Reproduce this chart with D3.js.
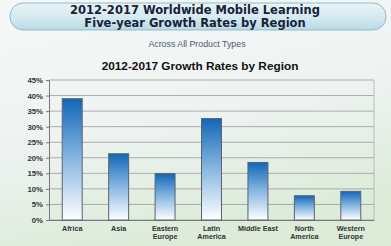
<!DOCTYPE html>
<html>
<head>
<meta charset="utf-8">
<script src="https://cdn.jsdelivr.net/npm/d3@7"></script>
<style>
  body { margin: 0; padding: 0; }
  svg { display: block; }
</style>
</head>
<body>
<div id="chart"></div>
<script>
const regions = ["Africa", "Asia", "Eastern Europe", "Latin America", "Middle East", "North America", "Western Europe"];
const regionLines = [["Africa"], ["Asia"], ["Eastern", "Europe"], ["Latin", "America"], ["Middle East"], ["North", "America"], ["Western", "Europe"]];
const growthRates = [0.39, 0.213, 0.149, 0.326, 0.185, 0.078, 0.092];
const yTicks = [0, 0.05, 0.10, 0.15, 0.20, 0.25, 0.30, 0.35, 0.40, 0.45];

const W = 391, H = 246;
const margin = {top: 80, right: 17, bottom: 26, left: 49},
  width = W - margin.left - margin.right,
  height = H - margin.top - margin.bottom;

const root = d3.select("#chart").append("svg")
  .attr("width", W).attr("height", H);

const defs = root.append("defs");

// slide background
const bg = defs.append("linearGradient").attr("id", "bg")
  .attr("x1", 0).attr("y1", 0).attr("x2", 0.3).attr("y2", 1);
bg.append("stop").attr("offset", "0%").attr("stop-color", "#f6f8f8");
bg.append("stop").attr("offset", "55%").attr("stop-color", "#eef3f2");
bg.append("stop").attr("offset", "100%").attr("stop-color", "#dcecd9");

// banner
const ban = defs.append("linearGradient").attr("id", "banner")
  .attr("x1", 0).attr("y1", 0).attr("x2", 0).attr("y2", 1);
ban.append("stop").attr("offset", "0%").attr("stop-color", "#e8f4f8");
ban.append("stop").attr("offset", "60%").attr("stop-color", "#d2e8ef");
ban.append("stop").attr("offset", "100%").attr("stop-color", "#b9d9e5");

// bars
const barG = defs.append("linearGradient").attr("id", "bar")
  .attr("x1", 0).attr("y1", 0).attr("x2", 0).attr("y2", 1);
barG.append("stop").attr("offset", "0%").attr("stop-color", "#1266b6");
barG.append("stop").attr("offset", "45%").attr("stop-color", "#7db0de");
barG.append("stop").attr("offset", "100%").attr("stop-color", "#ffffff");

root.append("rect").attr("width", W).attr("height", H).attr("fill", "url(#bg)");

root.append("rect")
  .attr("x", 10).attr("y", 3).attr("width", 376).attr("height", 27)
  .attr("rx", 13).attr("ry", 13)
  .attr("fill", "url(#banner)")
  .attr("stroke", "#8fbccd").attr("stroke-width", 1);

root.append("text").attr("x", 195).attr("y", 14)
  .attr("text-anchor", "middle")
  .attr("font-family", "DejaVu Sans, sans-serif").attr("font-weight", "bold")
  .attr("font-size", 11.5).attr("fill", "#1a2238")
  .text("2012-2017 Worldwide Mobile Learning");
root.append("text").attr("x", 195).attr("y", 26.5)
  .attr("text-anchor", "middle")
  .attr("font-family", "DejaVu Sans, sans-serif").attr("font-weight", "bold")
  .attr("font-size", 11.5).attr("fill", "#1a2238")
  .text("Five-year Growth Rates by Region");

root.append("text").attr("x", 197).attr("y", 47)
  .attr("text-anchor", "middle")
  .attr("font-family", "Liberation Sans, Arial, sans-serif")
  .attr("font-size", 8.8).attr("fill", "#4a5a70")
  .text("Across  All Product Types");

root.append("text").attr("x", 200).attr("y", 70)
  .attr("text-anchor", "middle")
  .attr("font-family", "Liberation Sans, Arial, sans-serif").attr("font-weight", "bold")
  .attr("font-size", 11.8).attr("fill", "#111")
  .text("2012-2017 Growth Rates by Region");

const svg = root.append("g")
  .attr("transform", `translate(${margin.left},${margin.top})`);

const x = d3.scaleBand().domain(regions).range([0, width]).paddingInner(0.57).paddingOuter(0.285);
const y = d3.scaleLinear().domain([0, 0.45]).range([height, 0]);

// gridlines
svg.append("g")
  .selectAll("line")
  .data(yTicks)
  .join("line")
  .attr("x1", 0).attr("x2", width)
  .attr("y1", d => y(d)).attr("y2", d => y(d))
  .attr("stroke", "#9a9a9a").attr("stroke-width", 0.8);

svg.append("line").attr("x1", width).attr("x2", width).attr("y1", 0).attr("y2", height)
  .attr("stroke", "#b0b0b0").attr("stroke-width", 0.8);

const yAxis = svg.append("g")
  .call(d3.axisLeft(y).tickValues(yTicks).tickFormat(d3.format(".0%")).tickSize(3).tickPadding(3));
yAxis.select(".domain").attr("stroke", "#777");
yAxis.selectAll(".tick line").attr("stroke", "#777");
yAxis.selectAll("text")
  .attr("font-family", "Liberation Sans, Arial, sans-serif").attr("font-weight", "bold")
  .attr("font-size", 7.8).attr("fill", "#333");

const xAxis = svg.append("g")
  .attr("transform", `translate(0,${height})`)
  .call(d3.axisBottom(x).tickSize(0).tickFormat(""));
xAxis.select(".domain").attr("stroke", "#777");

const lab = svg.append("g").selectAll("text")
  .data(regions)
  .join("text")
  .attr("text-anchor", "middle")
  .attr("font-family", "Liberation Sans, Arial, sans-serif").attr("font-weight", "bold")
  .attr("font-size", 7.2).attr("fill", "#333")
  .attr("transform", d => `translate(${x(d) + x.bandwidth() / 2},${height + 10.5})`);
lab.selectAll("tspan")
  .data((d, i) => regionLines[i])
  .join("tspan")
  .attr("x", 0).attr("dy", (d, i) => i === 0 ? 0 : 8.5)
  .text(d => d);

// bars
svg.append("g")
  .selectAll("rect")
  .data(regions)
  .join("rect")
  .attr("x", d => x(d))
  .attr("y", (d, i) => y(growthRates[i]))
  .attr("width", x.bandwidth())
  .attr("height", (d, i) => height - y(growthRates[i]))
  .attr("fill", "url(#bar)")
  .attr("stroke", "#5a6470").attr("stroke-width", 1);
</script>
</body>
</html>
